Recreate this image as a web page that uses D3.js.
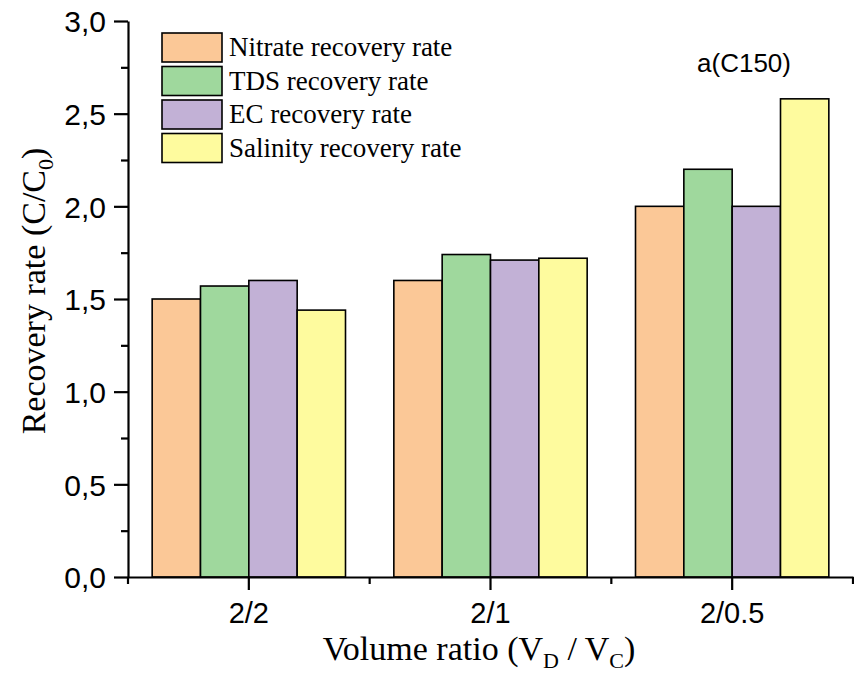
<!DOCTYPE html>
<html>
<head>
<meta charset="utf-8">
<script src="https://cdn.jsdelivr.net/npm/d3@7"></script>
<style>
  html, body { margin: 0; padding: 0; background: #fff; }
  svg { display: block; }
</style>
</head>
<body>
<svg id="chart" width="854" height="674"></svg>
<script>
// Volume ratio groups on the x axis
const categories = ["2/2", "2/1", "2/0.5"];

// Recovery rates (C/C0) for each measured parameter
const seriesNames = ["Nitrate recovery rate", "TDS recovery rate", "EC recovery rate", "Salinity recovery rate"];
const nitrate  = [1.50, 1.60, 2.00];
const tds      = [1.57, 1.74, 2.20];
const ec       = [1.60, 1.71, 2.00];
const salinity = [1.44, 1.72, 2.58];
const seriesValues = [nitrate, tds, ec, salinity];
const seriesColors = ["#fbc897", "#9fd89d", "#c2b1d6", "#fefb9e"];

const yMajorTicks = [0, 0.5, 1.0, 1.5, 2.0, 2.5, 3.0];
const yMinorTicks = [0.25, 0.75, 1.25, 1.75, 2.25, 2.75];
const panelLabel = "a(C150)";

const svg = d3.select("#chart");
const plotLeft = 128, plotRight = 853, plotTop = 21, plotBottom = 577;

const x = d3.scaleBand().domain(categories).range([plotLeft, plotRight]).paddingInner(0).paddingOuter(0);
const xInner = d3.scaleBand().domain(seriesNames).range([0, x.bandwidth()]).paddingOuter(0.5).paddingInner(0);
const y = d3.scaleLinear().domain([0, 3]).range([plotBottom, plotTop]);

const rows = categories.flatMap((c, i) => seriesNames.map((s, j) => ({ cat: c, series: s, value: seriesValues[j][i], color: seriesColors[j] })));

// Bars
svg.append("g").selectAll("rect").data(rows).join("rect")
  .attr("x", d => x(d.cat) + xInner(d.series))
  .attr("y", d => y(d.value))
  .attr("width", xInner.bandwidth())
  .attr("height", d => y(0) - y(d.value))
  .attr("fill", d => d.color)
  .attr("stroke", "#000")
  .attr("stroke-width", 1.6);

const fmt = v => d3.format(".1f")(v).replace(".", ",");
const sans = "Arial, 'Liberation Sans', sans-serif";

// Y axis with major and minor ticks
const yAxis = svg.append("g").attr("transform", `translate(${plotLeft},0)`)
  .call(d3.axisLeft(y).tickValues(yMajorTicks).tickFormat(fmt).tickSize(14).tickPadding(8).tickSizeOuter(0));
yAxis.selectAll("text").attr("font-family", sans).attr("font-size", 30).attr("fill", "#000").attr("dy", "0.36em");
yAxis.selectAll("line, path").attr("stroke", "#000").attr("stroke-width", 2.2);
svg.append("g").attr("transform", `translate(${plotLeft},0)`)
  .call(d3.axisLeft(y).tickValues(yMinorTicks).tickFormat("").tickSize(7).tickSizeOuter(0))
  .call(g => g.select("path").remove())
  .selectAll("line").attr("stroke", "#000").attr("stroke-width", 2.2);

// X axis: long ticks at group centres, short ticks at group edges
const xAxis = svg.append("g").attr("transform", `translate(0,${plotBottom})`)
  .call(d3.axisBottom(x).tickSize(13).tickPadding(12).tickSizeOuter(0));
xAxis.selectAll("text").attr("font-family", sans).attr("font-size", 29).attr("fill", "#000");
xAxis.selectAll("line, path").attr("stroke", "#000").attr("stroke-width", 2.2);
const edges = [plotLeft, ...categories.map(c => x(c) + x.bandwidth())];
svg.append("g").selectAll("line").data(edges).join("line")
  .attr("x1", d => d).attr("x2", d => d)
  .attr("y1", plotBottom).attr("y2", plotBottom + 7)
  .attr("stroke", "#000").attr("stroke-width", 2.2);

// Axis titles
const serif = "'Times New Roman', 'Liberation Serif', serif";
const xt = svg.append("text")
  .attr("x", 479).attr("y", 660)
  .attr("text-anchor", "middle")
  .attr("font-family", serif).attr("font-size", 34).attr("fill", "#000");
xt.append("tspan").text("Volume ratio (V");
xt.append("tspan").attr("font-size", 22).attr("dy", 8).text("D");
xt.append("tspan").attr("dy", -8).text(" / V");
xt.append("tspan").attr("font-size", 22).attr("dy", 8).text("C");
xt.append("tspan").attr("dy", -8).text(")");

const yt = svg.append("text")
  .attr("transform", "translate(45,291) rotate(-90)")
  .attr("text-anchor", "middle")
  .attr("font-family", serif).attr("font-size", 34).attr("fill", "#000");
yt.append("tspan").text("Recovery rate (C/C");
yt.append("tspan").attr("font-size", 22).attr("dy", 8).text("0");
yt.append("tspan").attr("dy", -8).text(")");

// Legend
const legend = svg.append("g").selectAll("g").data(seriesNames).join("g")
  .attr("transform", (d, i) => `translate(162,${33 + i * 33.5})`);
legend.append("rect")
  .attr("width", 60).attr("height", 29)
  .attr("fill", (d, i) => seriesColors[i])
  .attr("stroke", "#000").attr("stroke-width", 1.6);
legend.append("text")
  .attr("x", 67).attr("y", 23)
  .attr("font-family", serif).attr("font-size", 27).attr("fill", "#000")
  .text(d => d);

// Panel label
svg.append("text")
  .attr("x", 744).attr("y", 72)
  .attr("text-anchor", "middle")
  .attr("font-family", sans).attr("font-size", 26).attr("fill", "#000")
  .text(panelLabel);
</script>
</body>
</html>
